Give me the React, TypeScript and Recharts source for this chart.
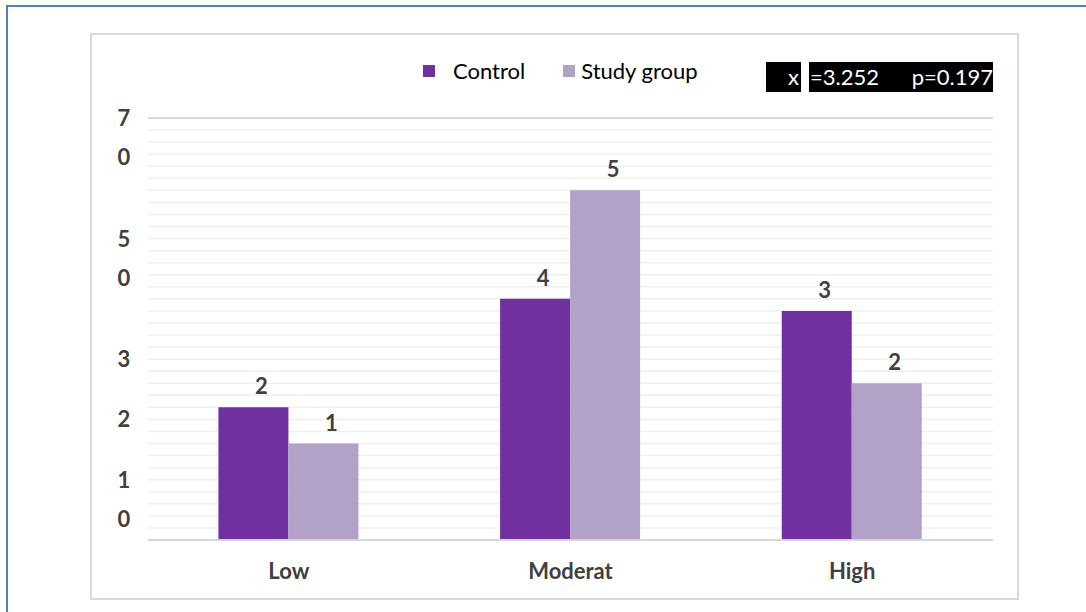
import React from "react";
import {
  Bar,
  BarChart,
  CartesianGrid,
  LabelList,
  XAxis,
  YAxis,
} from "recharts";

const categories = ["Low", "Moderat", "High"];
const controlSeries = [22, 40, 38];
const studySeries = [16, 58, 26];
// value labels as printed in the source figure
const controlLabels = ["2", "4", "3"];
const studyLabels = ["1", "5", "2"];

const yMinorTicks = [0, 2, 4, 6, 8, 10, 12, 14, 16, 18, 20, 22, 24, 26, 28, 30, 32, 34, 36, 38, 40, 42, 44, 46, 48, 50, 52, 54, 56, 58, 60, 62, 64, 66, 68, 70];
const yMajorTicks = [0, 10, 20, 30, 40, 50, 60, 70];
const yTickText: Record<number, string[]> = {
  70: ["7", "0"],
  50: ["5", "0"],
  30: ["3"],
  20: ["2"],
  10: ["1", "0"],
};

const seriesNames = ["Control", "Study group"];
const statsLabel = "x";
const statsChi = "=3.252";
const statsP = "p=0.197";

const CONTROL = "#7030a0";
const STUDY = "#b3a2c7";
const TEXT = "#404040";
const FONT = "Lato, 'Open Sans', sans-serif";
const labelStyle = { fontFamily: FONT, fontSize: 22, fontWeight: 700, fill: TEXT };

const data = categories.map((name, i) => ({
  name,
  control: controlSeries[i],
  study: studySeries[i],
  controlLabel: controlLabels[i],
  studyLabel: studyLabels[i],
}));

function YTick(props: any) {
  const { x, y, payload } = props;
  const lines = yTickText[payload.value];
  if (!lines) return null;
  return (
    <g>
      {lines.map((t, i) => (
        <text
          key={i}
          x={x - 16}
          y={y + i * 39}
          dy={8}
          textAnchor="middle"
          {...labelStyle}
        >
          {t}
        </text>
      ))}
    </g>
  );
}

// bar value label, nudged right like in the source figure
function ValueLabel(props: any) {
  const { x, y, width, value } = props;
  return (
    <text x={x + width / 2 + 8} y={y - 13} textAnchor="middle" {...labelStyle}>
      {value}
    </text>
  );
}

export default function App() {
  const colors = [CONTROL, STUDY];
  return (
    <div
      style={{
        position: "absolute",
        left: 0,
        top: 0,
        width: 1086,
        height: 612,
        overflow: "hidden",
        background: "#fff",
      }}
    >
      <div
        style={{
          position: "absolute",
          left: 6,
          top: 5,
          width: 1200,
          height: 700,
          border: "2px solid #4f81bd",
        }}
      />
      <div
        style={{
          position: "absolute",
          left: 90,
          top: 33,
          width: 925,
          height: 563,
          border: "2px solid #d9d9d9",
        }}
      />
      <div style={{ position: "absolute", left: 0, top: 0 }}>
        <BarChart
          width={1086}
          height={612}
          data={data}
          margin={{ top: 118, right: 93, bottom: 32, left: 88 }}
          barCategoryGap="25%"
          barGap={0}
        >
          <CartesianGrid vertical={false} stroke="#efefef" strokeWidth={1.5} />
          <CartesianGrid vertical={false} yAxisId="major" stroke="#d6d6d6" strokeWidth={1.8} />
          <XAxis
            dataKey="name"
            height={40}
            tickLine={false}
            axisLine={{ stroke: "#d6d6d6", strokeWidth: 1.8 }}
            tickMargin={17}
            tick={labelStyle}
          />
          <YAxis
            width={60}
            domain={[0, 70]}
            ticks={yMinorTicks}
            interval={0}
            axisLine={false}
            tickLine={false}
            tick={<YTick />}
          />
          <YAxis yAxisId="major" hide domain={[0, 70]} ticks={yMajorTicks} interval={0} />
          <Bar dataKey="control" name={seriesNames[0]} fill={CONTROL} isAnimationActive={false}>
            <LabelList dataKey="controlLabel" content={<ValueLabel />} />
          </Bar>
          <Bar dataKey="study" name={seriesNames[1]} fill={STUDY} isAnimationActive={false}>
            <LabelList dataKey="studyLabel" content={<ValueLabel />} />
          </Bar>
        </BarChart>
      </div>
      <div
        style={{
          position: "absolute",
          left: 423,
          top: 57,
          display: "flex",
          alignItems: "center",
          fontFamily: FONT,
          fontSize: 22,
          lineHeight: "28px",
          color: "#000",
        }}
      >
        {seriesNames.map((n, i) => (
          <div key={n} style={{ display: "flex", alignItems: "center", marginRight: i === 0 ? 38 : 0 }}>
            <span
              style={{
                width: 12,
                height: 12,
                background: colors[i],
                display: "inline-block",
                marginRight: i === 0 ? 18 : 6,
              }}
            />
            <span>{n}</span>
          </div>
        ))}
      </div>
      <div
        style={{
          position: "absolute",
          left: 766,
          top: 62,
          width: 35,
          height: 30,
          background: "#000",
          color: "#fff",
          fontFamily: FONT,
          fontSize: 22,
          lineHeight: "30px",
          textAlign: "right",
          paddingRight: 2,
          boxSizing: "border-box",
        }}
      >
        {statsLabel}
      </div>
      <div
        style={{
          position: "absolute",
          left: 809,
          top: 62,
          width: 184,
          height: 30,
          background: "#000",
          color: "#fff",
          fontFamily: FONT,
          fontSize: 22,
          lineHeight: "30px",
          display: "flex",
          justifyContent: "space-between",
          boxSizing: "border-box",
          paddingLeft: 1,
        }}
      >
        <span>{statsChi}</span>
        <span>{statsP}</span>
      </div>
    </div>
  );
}
